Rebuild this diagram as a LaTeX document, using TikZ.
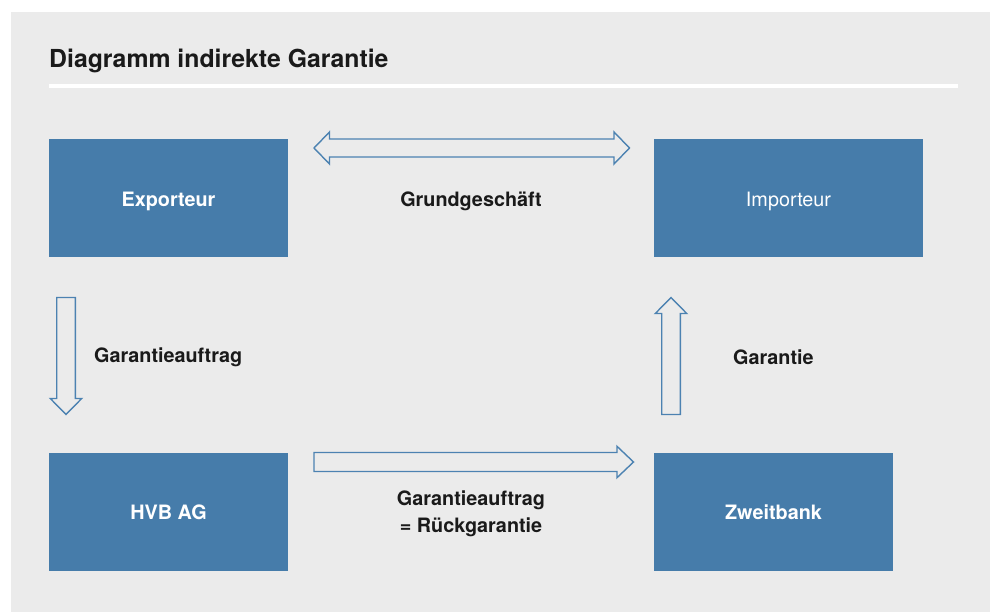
\documentclass[tikz,border=0pt]{standalone}
\usepackage{fontspec}
\setmainfont{TeX Gyre Heros}
\usetikzlibrary{calc}
\definecolor{bgc}{HTML}{EBEBEB}
\definecolor{boxc}{HTML}{467CAA}
\definecolor{linec}{HTML}{4C82B1}
\definecolor{txt}{HTML}{1A1A1A}
\tikzset{
  bluebox/.style={fill=boxc, draw=none, inner sep=0pt, minimum height=118pt},
  boxtext/.style={text=white, inner sep=0pt, font=\bfseries\fontsize{19.8}{24}\selectfont},
  lbl/.style={text=txt, inner sep=0pt, font=\bfseries\fontsize{19.8}{27}\selectfont, align=center},
  blockarrow/.style={draw=linec, line width=1.4pt, fill=none, line join=miter}
}
\begin{document}
\begin{tikzpicture}[x=1pt,y=-1pt]
\useasboundingbox (0,0) rectangle (990,612);
\fill[white] (0,0) rectangle (990,612);
\fill[bgc] (11,12) rectangle (990,612);
% title
\node[anchor=base west, inner sep=0pt, text=txt, font=\bfseries\fontsize{24.8}{28}\selectfont] (title) at (49,68) {Diagramm indirekte Garantie};
\coordinate (rl) at (49,86);
\coordinate (rr) at (958,86);
\draw[white, line width=4pt] (rl) -- (rr);
% boxes
\node[bluebox, minimum width=239pt] (exp) at (168.5,198) {};
\node[bluebox, minimum width=269pt] (imp) at (788.5,198) {};
\node[bluebox, minimum width=239pt] (hvb) at (168.5,512) {};
\node[bluebox, minimum width=239pt] (zb) at (773.5,512) {};
\node[boxtext] (expt) at ([yshift=-3pt]exp.center) {Exporteur};
\node[boxtext, font=\fontsize{19.8}{24}\selectfont] (impt) at ([yshift=-3pt]imp.center) {Importeur};
\node[boxtext] (hvbt) at ([yshift=-0.5pt]hvb.center) {HVB AG};
\node[boxtext] (zbt) at ([yshift=-0.5pt]zb.center) {Zweitbank};
% arrow end points
\coordinate (dL) at (314,148);
\coordinate (dR) at (629.5,148);
\coordinate (vT) at (66,297.5);
\coordinate (vB) at (66,414.5);
\coordinate (uB) at (671,414.5);
\coordinate (uT) at (671,297.5);
\coordinate (hL) at (314,462);
\coordinate (hR) at (633.5,462);
% double arrow (Grundgeschaeft)
\draw[blockarrow] (dL) -- ($(dL)+(15.5,-16)$) -- ($(dL)+(15.5,-9)$) -- ($(dR)+(-15.5,-9)$) -- ($(dR)+(-15.5,-16)$)
  -- (dR) -- ($(dR)+(-15.5,16)$) -- ($(dR)+(-15.5,9)$) -- ($(dL)+(15.5,9)$) -- ($(dL)+(15.5,16)$) -- cycle;
% down arrow
\draw[blockarrow] ($(vT)+(-9.3,0)$) -- ($(vT)+(9.3,0)$) -- ($(vB)+(9.3,-16)$) -- ($(vB)+(15.7,-16)$) -- (vB)
  -- ($(vB)+(-15.7,-16)$) -- ($(vB)+(-9.3,-16)$) -- cycle;
% up arrow
\draw[blockarrow] ($(uB)+(-9.3,0)$) -- ($(uB)+(9.3,0)$) -- ($(uT)+(9.3,16)$) -- ($(uT)+(15.7,16)$) -- (uT)
  -- ($(uT)+(-15.7,16)$) -- ($(uT)+(-9.3,16)$) -- cycle;
% right arrow
\draw[blockarrow] ($(hL)+(0,-9.5)$) -- ($(hR)+(-16.5,-9.5)$) -- ($(hR)+(-16.5,-15.7)$) -- (hR)
  -- ($(hR)+(-16.5,15.7)$) -- ($(hR)+(-16.5,9.5)$) -- ($(hL)+(0,9.5)$) -- cycle;
% labels
\node[lbl] (l1) at (471,201) {Grundgeschäft};
\node[lbl, anchor=west] (l2) at (94,357) {Garantieauftrag};
\node[lbl, anchor=west] (l3) at (733,357) {Garantie};
\node[lbl] (l4) at (471,514) {Garantieauftrag\\= Rückgarantie};
\end{tikzpicture}
\end{document}
